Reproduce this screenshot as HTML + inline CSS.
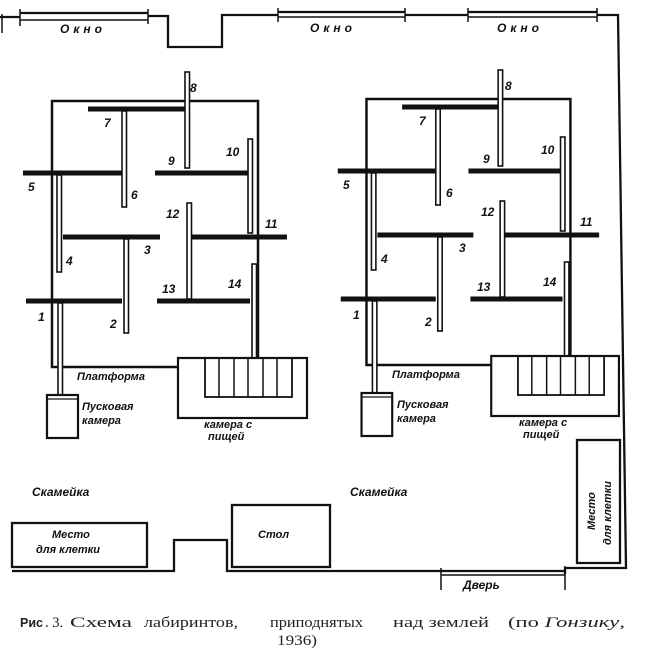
<!DOCTYPE html>
<html><head><meta charset="utf-8"><style>
html,body{margin:0;padding:0;background:#fff;}
svg{display:block}
.l{font-family:"Liberation Sans","DejaVu Sans",sans-serif;font-style:italic;font-weight:bold;fill:#111}
.c{font-family:"Liberation Serif","DejaVu Serif",serif;font-size:14.5px;fill:#222}
</style></head><body>
<svg width="645" height="653" viewBox="0 0 645 653" xmlns="http://www.w3.org/2000/svg">
<defs>
<g id="maze" stroke="#111" fill="none">
  <path d="M178,367 H52 V101 H258 V360" stroke-width="2.5"/>
  <g stroke-width="5">
    <line x1="88" y1="109" x2="185" y2="109"/>
    <line x1="23" y1="173" x2="122" y2="173"/>
    <line x1="155" y1="173" x2="248" y2="173"/>
    <line x1="63" y1="237" x2="160" y2="237"/>
    <line x1="190" y1="237" x2="287" y2="237"/>
    <line x1="26" y1="301" x2="122" y2="301"/>
    <line x1="157" y1="301" x2="250" y2="301"/>
  </g>
  <g stroke-width="1.6" fill="#fff">
    <rect x="185" y="72" width="4.5" height="96"/>
    <rect x="122" y="111" width="4.5" height="96"/>
    <rect x="248" y="139" width="4.5" height="94"/>
    <rect x="57" y="175" width="4.5" height="97"/>
    <rect x="124" y="239" width="4.5" height="94"/>
    <rect x="187" y="203" width="4.5" height="96"/>
    <rect x="252" y="264" width="4.5" height="94"/>
    <rect x="58" y="303" width="4.5" height="92"/>
  </g>
  <rect x="178" y="358" width="129" height="60" stroke-width="2.2" fill="#fff"/>
  <rect x="205" y="358" width="87" height="39" stroke-width="1.8"/>
  <g stroke-width="1.5">
    <line x1="219" y1="358" x2="219" y2="397"/>
    <line x1="234" y1="358" x2="234" y2="397"/>
    <line x1="248" y1="358" x2="248" y2="397"/>
    <line x1="263" y1="358" x2="263" y2="397"/>
    <line x1="277" y1="358" x2="277" y2="397"/>
  </g>
  <rect x="47" y="395" width="31" height="43" stroke-width="2.2" fill="#fff"/>
  <line x1="48" y1="399" x2="77" y2="399" stroke-width="1.2"/>
</g>
<g id="mlab" class="l">
  <text x="190" y="92" font-size="12">8</text>
  <text x="104" y="127" font-size="12">7</text>
  <text x="168" y="165" font-size="12">9</text>
  <text x="226" y="156" font-size="12">10</text>
  <text x="28" y="191" font-size="12">5</text>
  <text x="131" y="199" font-size="12">6</text>
  <text x="166" y="218" font-size="12">12</text>
  <text x="265" y="228" font-size="12">11</text>
  <text x="66" y="265" font-size="12">4</text>
  <text x="144" y="254" font-size="12">3</text>
  <text x="162" y="293" font-size="12">13</text>
  <text x="228" y="288" font-size="12">14</text>
  <text x="38" y="321" font-size="12">1</text>
  <text x="110" y="328" font-size="12">2</text>
  <text x="77" y="380" font-size="11">Платформа</text>
  <text x="82" y="410" font-size="11">Пусковая</text>
  <text x="82" y="424" font-size="11">камера</text>
  <text x="204" y="428" font-size="11">камера с</text>
  <text x="208" y="440" font-size="11">пищей</text>
</g>
</defs>

<g stroke="#111" fill="none" stroke-width="2.3">
  <path d="M0,17 H20 M148,16 H168 V47 H222 V15 H278 M405,15 H468 M597,15 H618 L626,568 H565 V574"/>
  <line x1="20" y1="13" x2="148" y2="13"/>
  <line x1="20" y1="20" x2="148" y2="20" stroke-width="1.6"/>
  <line x1="278" y1="12" x2="405" y2="12"/>
  <line x1="278" y1="17" x2="405" y2="17" stroke-width="1.6"/>
  <line x1="468" y1="12" x2="597" y2="12"/>
  <line x1="468" y1="17" x2="597" y2="17" stroke-width="1.6"/>
  <g stroke-width="1.5">
    <line x1="20" y1="9" x2="20" y2="26"/><line x1="148" y1="9" x2="148" y2="24"/>
    <line x1="278" y1="8" x2="278" y2="22"/><line x1="405" y1="8" x2="405" y2="22"/>
    <line x1="468" y1="8" x2="468" y2="22"/><line x1="597" y1="8" x2="597" y2="22"/>
    <line x1="2" y1="14" x2="2" y2="33"/>
  </g>
  <path d="M12,571 H174 V540 H227 V571 H441"/>
  <line x1="441" y1="571" x2="565" y2="571"/>
  <line x1="441" y1="575" x2="565" y2="575" stroke-width="1.6"/>
  <line x1="441" y1="568" x2="441" y2="590" stroke-width="1.5"/>
  <line x1="565" y1="566" x2="565" y2="590" stroke-width="1.5"/>
  <rect x="12" y="523" width="135" height="44"/>
  <rect x="232" y="505" width="98" height="62"/>
  <rect x="577" y="440" width="43" height="123"/>
</g>

<use href="#maze"/>
<use href="#maze" transform="translate(315,-2) scale(0.99,1)"/>
<use href="#mlab"/>
<use href="#mlab" transform="translate(315,-2)"/>

<g class="l">
  <text x="60" y="33" font-size="12" letter-spacing="4">Окно</text>
  <text x="310" y="32" font-size="12" letter-spacing="4">Окно</text>
  <text x="497" y="32" font-size="12" letter-spacing="4">Окно</text>
  <text x="32" y="496" font-size="12">Скамейка</text>
  <text x="350" y="496" font-size="12">Скамейка</text>
  <text x="52" y="538" font-size="11">Место</text>
  <text x="36" y="553" font-size="11">для клетки</text>
  <text x="258" y="538" font-size="11">Стол</text>
  <text x="463" y="589" font-size="12">Дверь</text>
  <text transform="translate(595,530) rotate(-90)" font-size="11">Место</text>
  <text transform="translate(611,545) rotate(-90)" font-size="11">для клетки</text>
</g>

<text x="20" y="627" font-family="'Liberation Sans',sans-serif" font-weight="bold" font-size="12.5" fill="#222">Рис</text>
<text x="45" y="627" class="c">. 3.</text>
<text x="70" y="627" class="c" textLength="62" lengthAdjust="spacingAndGlyphs">Схема</text>
<text x="144" y="627" class="c" textLength="94" lengthAdjust="spacingAndGlyphs">лабиринтов,</text>
<text x="270" y="627" class="c" textLength="93" lengthAdjust="spacingAndGlyphs">приподнятых</text>
<text x="393" y="627" class="c" textLength="96" lengthAdjust="spacingAndGlyphs">над землей</text>
<text x="508" y="627" class="c" textLength="117" lengthAdjust="spacingAndGlyphs">(по <tspan font-style="italic">Гонзику</tspan>,</text>
<text x="277" y="645" class="c" textLength="40" lengthAdjust="spacingAndGlyphs">1936)</text>
</svg>
</body></html>
